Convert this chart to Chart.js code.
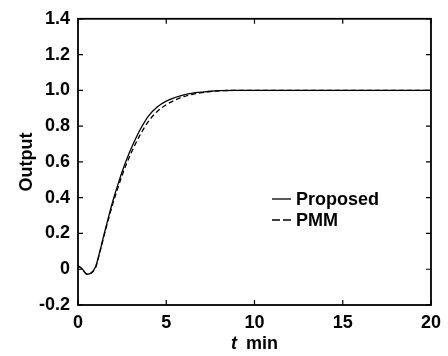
<!DOCTYPE html>
<html>
<head>
<meta charset="utf-8">
<script src="https://cdn.jsdelivr.net/npm/chart.js@4/dist/chart.umd.min.js"></script>
<style>
  html, body { margin: 0; padding: 0; background: #fff; }
  #wrap { width: 448px; height: 356px; }
</style>
</head>
<body>
<div id="wrap"><canvas id="c" width="448" height="356"></canvas></div>
<script>
// ---- data ----
const timeMin = [0, 0.25, 0.5, 0.75, 1.0, 1.25, 1.5, 1.75, 2.0, 2.25, 2.5, 2.75, 3.0, 3.25, 3.5, 3.75, 4.0, 4.5, 5.0, 5.5, 6.0, 6.5, 7.0, 7.5, 8.0, 9.0, 10, 12, 14, 16, 18, 20];
const proposed = [0.02, 0.0, -0.028, -0.02, 0.015, 0.105, 0.205, 0.30, 0.39, 0.47, 0.545, 0.612, 0.672, 0.727, 0.777, 0.82, 0.857, 0.908, 0.94, 0.96, 0.975, 0.985, 0.99, 0.995, 0.998, 1.0, 1.0, 1.0, 1.0, 1.0, 1.0, 1.0];
const pmm      = [0.02, 0.0, -0.028, -0.022, 0.01, 0.098, 0.196, 0.288, 0.375, 0.452, 0.525, 0.59, 0.647, 0.70, 0.748, 0.79, 0.828, 0.883, 0.92, 0.946, 0.965, 0.978, 0.987, 0.993, 0.997, 1.0, 1.0, 1.0, 1.0, 1.0, 1.0, 1.0];
const seriesNames = ["Proposed", "PMM"];
const xTicks = [0, 5, 10, 15, 20];
const yTicks = [-0.2, 0, 0.2, 0.4, 0.6, 0.8, 1.0, 1.2, 1.4];
const yTickLabels = ["-0.2", "0", "0.2", "0.4", "0.6", "0.8", "1.0", "1.2", "1.4"];
const xTickLabels = ["0", "5", "10", "15", "20"];
const yTitle = "Output";
const xTitleVar = "t";
const xTitleUnit = "min";

const FONT = "'Liberation Sans', Arial, sans-serif";

const framePlugin = {
  id: 'frame',
  afterDatasetsDraw(chart) {
    const ctx = chart.ctx, a = chart.chartArea;
    const xs = chart.scales.x, ys = chart.scales.y;
    ctx.save();
    ctx.strokeStyle = '#000';
    ctx.lineWidth = 1.8;
    ctx.strokeRect(a.left, a.top, a.right - a.left, a.bottom - a.top);
    ctx.lineWidth = 1.2;
    const L = 5;
    ctx.beginPath();
    xTicks.forEach(v => {
      const px = xs.getPixelForValue(v);
      ctx.moveTo(px, a.bottom); ctx.lineTo(px, a.bottom - L);
      ctx.moveTo(px, a.top); ctx.lineTo(px, a.top + L);
    });
    yTicks.forEach(v => {
      const py = ys.getPixelForValue(v);
      ctx.moveTo(a.left, py); ctx.lineTo(a.left + L, py);
      ctx.moveTo(a.right, py); ctx.lineTo(a.right - L, py);
    });
    ctx.stroke();

    // legend
    const lx = 272, ly0 = 199, dy = 21;
    chart.data.datasets.forEach((ds, i) => {
      const y = ly0 + i * dy;
      ctx.beginPath();
      ctx.strokeStyle = '#000';
      ctx.lineWidth = 1.3;
      ctx.setLineDash(i === 0 ? [] : [8, 3]);
      ctx.moveTo(lx, y); ctx.lineTo(lx + 19, y);
      ctx.stroke();
      ctx.setLineDash([]);
      ctx.fillStyle = '#000';
      ctx.font = 'bold 18px ' + FONT;
      ctx.textBaseline = 'middle';
      ctx.textAlign = 'left';
      ctx.fillText(ds.label, lx + 24, y + 1);
    });

    // x title: italic "t" + "min"
    const cx = (a.left + a.right) / 2;
    ctx.textBaseline = 'alphabetic';
    ctx.fillStyle = '#000';
    ctx.font = 'italic bold 18px ' + FONT;
    const w1 = ctx.measureText(xTitleVar).width;
    ctx.font = 'bold 18px ' + FONT;
    const gap = 9;
    const w2 = ctx.measureText(xTitleUnit).width;
    const start = cx - (w1 + gap + w2) / 2;
    ctx.font = 'italic bold 18px ' + FONT;
    ctx.fillText(xTitleVar, start, 349);
    ctx.font = 'bold 18px ' + FONT;
    ctx.fillText(xTitleUnit, start + w1 + gap, 349);
    ctx.restore();
  }
};

const ds = (label, arr, dash) => ({
  label,
  data: timeMin.map((t, i) => ({ x: t, y: arr[i] })),
  borderColor: '#000',
  borderWidth: 1.3,
  borderDash: dash,
  pointRadius: 0,
  cubicInterpolationMode: 'monotone',
  fill: false
});

new Chart(document.getElementById('c'), {
  type: 'line',
  data: {
    datasets: [ds(seriesNames[0], proposed, []), ds(seriesNames[1], pmm, [5, 3])]
  },
  options: {
    responsive: false,
    animation: false,
    devicePixelRatio: 1,
    layout: { padding: { top: 15, right: 16, left: 0, bottom: 0 } },
    plugins: { legend: { display: false }, tooltip: { enabled: false } },
    scales: {
      x: {
        type: 'linear', min: 0, max: 20,
        afterBuildTicks(s) { s.ticks = xTicks.map(v => ({ value: v })); },
        afterFit(s) { s.height = 51; },
        grid: { display: false, drawTicks: false },
        border: { display: false },
        ticks: {
          padding: 7,
          color: '#000',
          font: { family: FONT, size: 18, weight: 'bold' },
          callback: (v) => xTickLabels[xTicks.indexOf(v)],
          maxRotation: 0
        }
      },
      y: {
        type: 'linear', min: -0.2, max: 1.4,
        afterBuildTicks(s) { s.ticks = yTicks.map(v => ({ value: v })); },
        afterFit(s) { s.width = 78; },
        grid: { display: false, drawTicks: false },
        border: { display: false },
        title: { display: true, text: yTitle, color: '#000', font: { family: FONT, size: 18, weight: 'bold' }, padding: { top: 16, bottom: 0 } },
        ticks: {
          padding: 8,
          color: '#000',
          font: { family: FONT, size: 18, weight: 'bold' },
          callback: (v) => {
            const i = yTicks.findIndex(t => Math.abs(t - v) < 1e-9);
            return i >= 0 ? yTickLabels[i] : '';
          }
        }
      }
    }
  },
  plugins: [framePlugin]
});
</script>
</body>
</html>
